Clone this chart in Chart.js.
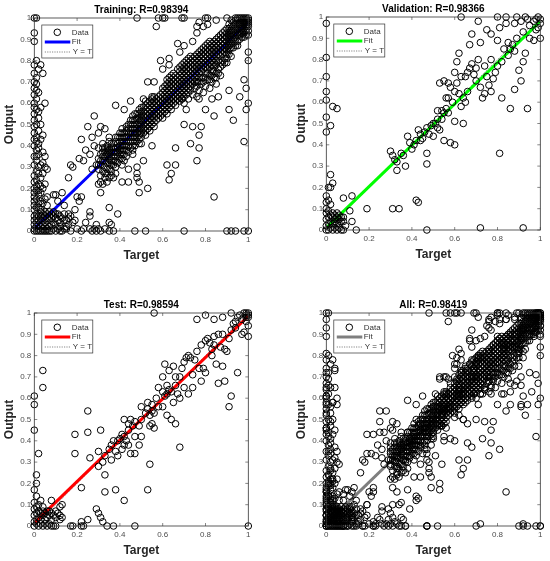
<!DOCTYPE html>
<html>
<head>
<meta charset="utf-8">
<script src="https://cdn.jsdelivr.net/npm/chart.js@4.4.0/dist/chart.umd.min.js"></script>
<style>
body { margin: 0; width: 550px; height: 561px; overflow: hidden; background: #fff; position: relative; }
canvas { position: absolute; }
</style>
</head>
<body>
<canvas id="trainChart" width="275" height="280" style="left:0px;top:0px"></canvas>
<canvas id="valChart" width="275" height="280" style="left:292px;top:-1px"></canvas>
<canvas id="testChart" width="275" height="280" style="left:0px;top:295px"></canvas>
<canvas id="allChart" width="275" height="280" style="left:292px;top:295px"></canvas>
<script>
// tick values (target on x, output on y)
var xTicks = [0, 0.2, 0.4, 0.6, 0.8, 1];
var yTicks = [0, 0.1, 0.2, 0.3, 0.4, 0.5, 0.6, 0.7, 0.8, 0.9, 1];

// fit line: [slope, intercept]
var fitTrain = [0.97, 0.012];
var fitVal = [0.97, 0.010];
var fitTest = [0.97, 0.015];
var fitAll = [0.97, 0.012];

// training points [target, output]
var trainOrigin = [
  [0,0],[0.01,0],[0.02,0],[0.03,0],[0.04,0],[0.05,0],[0.06,0],[0.07,0],[0.08,0],[0.10,0],[0.12,0],[0.13,0],
  [0,0.01],[0.01,0.02],[0.02,0.01],[0.03,0.02],[0.04,0.01],[0.05,0.02],[0.06,0.01],[0.07,0.02],[0.09,0.01],[0.11,0.01],
  [0,0.03],[0.01,0.04],[0.02,0.03],[0.03,0.05],[0.04,0.03],[0.05,0.04],[0.06,0.03],[0.07,0.05],[0.08,0.03],[0.09,0.04],[0.10,0.03],
  [0,0.05],[0.01,0.06],[0.02,0.05],[0.03,0.07],[0.04,0.06],[0.05,0.07],[0.06,0.06],[0.07,0.07],[0.08,0.06],[0.09,0.07],[0.10,0.06],[0.11,0.05],
  [0,0.07],[0.01,0.08],[0.02,0.07],[0.03,0.09],[0.04,0.08],[0.06,0.08],[0.08,0.08],[0.10,0.08],[0.12,0.07],[0.13,0.06],[0.15,0.05],
  [0.14,0.08],[0.16,0.03],[0.12,0.02],[0.14,0.01],[0.17,0.07],[0.18,0.04],[0.19,0.05],[0.05,0.09],[0.07,0.09],[0.09,0.09],
  [0.11,0.08],[0.12,0.04],[0.14,0.05],[0.15,0.02],[0.16,0.06]
];
var trainColumn = [
  [0,0.10],[0.01,0.11],[0,0.12],[0.02,0.13],[0,0.14],[0.01,0.15],[0,0.16],[0.02,0.17],[0,0.18],[0.01,0.19],[0,0.20],
  [0.01,0.21],[0.02,0.22],[0,0.23],[0.01,0.24],[0.03,0.25],[0,0.26],[0.01,0.28],[0.02,0.30],[0,0.31],[0.03,0.31],
  [0.01,0.33],[0,0.35],[0.02,0.36],[0.01,0.38],[0,0.40],[0.02,0.41],[0,0.43],[0.01,0.44],[0,0.46],[0.02,0.47],
  [0,0.49],[0.01,0.50],[0,0.52],[0.02,0.53],[0,0.55],[0.01,0.57],[0,0.58],[0.03,0.58],[0,0.60],[0.01,0.62],
  [0,0.64],[0.02,0.65],[0,0.67],[0.01,0.69],[0,0.70],[0.01,0.72],[0,0.74],[0.02,0.76],[0,0.78],[0.01,0.80],
  [0,0.89],[0,0.93],[0,1],[0.01,1],
  [0.04,0.74],[0.05,0.60],[0.03,0.78],[0.04,0.37],[0.05,0.35],[0.04,0.32],[0.05,0.30],[0.06,0.29],[0.03,0.43],
  [0.04,0.45],[0.03,0.50],[0.04,0.27],[0.05,0.22],[0.04,0.20],[0.03,0.18],[0.05,0.15],[0.06,0.12],[0.04,0.13],[0.03,0.10],[0.06,0.16],
  [0.02,0.11],[0.03,0.14],[0.02,0.19],[0.03,0.21],[0.02,0.27],[0.01,0.35],[0.02,0.39],[0.01,0.42],[0.02,0.56],[0.01,0.66]
];
var trainBand = [
  [0.30,0.29],[0.30,0.34],[0.30,0.39],[0.31,0.26],[0.31,0.31],[0.31,0.36],[0.32,0.22],[0.32,0.28],[0.32,0.33],[0.32,0.37],[0.32,0.41],
  [0.33,0.25],[0.33,0.30],[0.33,0.35],[0.33,0.39],[0.34,0.23],[0.34,0.27],[0.34,0.32],[0.34,0.36],[0.34,0.40],[0.35,0.29],[0.35,0.34],
  [0.35,0.38],[0.35,0.42],[0.36,0.26],[0.36,0.31],[0.36,0.35],[0.36,0.39],[0.37,0.33],[0.37,0.37],[0.37,0.41],[0.38,0.30],[0.38,0.35],
  [0.38,0.39],[0.38,0.44],[0.39,0.32],[0.39,0.37],[0.39,0.41],[0.40,0.34],[0.40,0.38],[0.40,0.42],[0.40,0.46],[0.41,0.31],[0.41,0.36],
  [0.41,0.40],[0.41,0.44],[0.41,0.48],[0.42,0.33],[0.42,0.38],[0.42,0.42],[0.42,0.46],[0.43,0.35],[0.43,0.40],[0.43,0.44],[0.43,0.49],
  [0.44,0.37],[0.44,0.42],[0.44,0.46],[0.44,0.50],[0.45,0.39],[0.45,0.44],[0.45,0.48],[0.45,0.52],[0.46,0.38],[0.46,0.42],[0.46,0.46],
  [0.46,0.50],[0.46,0.54],[0.47,0.40],[0.47,0.44],[0.47,0.48],[0.47,0.52],[0.48,0.42],[0.48,0.46],[0.48,0.50],[0.48,0.55],[0.49,0.41],
  [0.49,0.45],[0.49,0.49],[0.49,0.53],[0.49,0.57],[0.50,0.44],[0.50,0.48],[0.50,0.52],[0.50,0.56],[0.51,0.46],[0.51,0.50],[0.51,0.54],
  [0.51,0.58],[0.52,0.45],[0.52,0.49],[0.52,0.53],[0.52,0.57],[0.52,0.61],[0.53,0.48],[0.53,0.52],[0.53,0.56],[0.53,0.60],[0.54,0.47],
  [0.54,0.51],[0.54,0.55],[0.54,0.59],[0.55,0.50],[0.55,0.54],[0.55,0.58],[0.55,0.62],[0.56,0.49],[0.56,0.53],[0.56,0.57],[0.56,0.61],
  [0.57,0.52],[0.57,0.56],[0.57,0.60],[0.58,0.55],[0.58,0.59],[0.58,0.63],[0.59,0.54],[0.59,0.58],[0.59,0.62],[0.60,0.53],[0.60,0.57],
  [0.60,0.61],[0.60,0.65],[0.61,0.56],[0.61,0.60],[0.61,0.64],[0.61,0.68],[0.62,0.55],[0.62,0.59],[0.62,0.63],[0.62,0.67],[0.62,0.71],
  [0.63,0.58],[0.63,0.62],[0.63,0.66],[0.63,0.70],[0.64,0.57],[0.64,0.61],[0.64,0.65],[0.64,0.69],[0.64,0.73],[0.65,0.60],[0.65,0.64],
  [0.65,0.68],[0.65,0.72],[0.66,0.59],[0.66,0.63],[0.66,0.67],[0.66,0.71],[0.67,0.62],[0.67,0.66],[0.67,0.70],[0.68,0.61],[0.68,0.65],
  [0.68,0.69],[0.68,0.73],[0.68,0.77],[0.69,0.64],[0.69,0.68],[0.69,0.72],[0.69,0.76],[0.70,0.60],[0.70,0.63],[0.70,0.67],[0.70,0.71],
  [0.70,0.75],[0.70,0.79],[0.71,0.66],[0.71,0.70],[0.71,0.74],[0.71,0.78],[0.72,0.62],[0.72,0.65],[0.72,0.69],[0.72,0.73],[0.72,0.77],
  [0.72,0.81],[0.73,0.68],[0.73,0.72],[0.73,0.76],[0.73,0.80],[0.74,0.64],[0.74,0.71],[0.74,0.75],[0.74,0.79],[0.75,0.67],[0.75,0.74],
  [0.75,0.78],[0.75,0.82],[0.76,0.63],[0.76,0.70],[0.76,0.73],[0.76,0.77],[0.76,0.81],[0.77,0.66],[0.77,0.72],[0.77,0.76],[0.77,0.80],
  [0.77,0.84],[0.78,0.69],[0.78,0.75],[0.78,0.79],[0.78,0.83],[0.79,0.65],[0.79,0.72],[0.79,0.78],[0.79,0.82],[0.79,0.86],[0.80,0.68],
  [0.80,0.74],[0.80,0.77],[0.80,0.81],[0.80,0.85],[0.81,0.71],[0.81,0.76],[0.81,0.80],[0.81,0.84],[0.81,0.88],[0.82,0.67],[0.82,0.73],
  [0.82,0.79],[0.82,0.83],[0.82,0.87],[0.83,0.70],[0.83,0.75],[0.83,0.78],[0.83,0.82],[0.83,0.86],[0.84,0.72],[0.84,0.77],[0.84,0.81],
  [0.84,0.85],[0.84,0.89],[0.85,0.69],[0.85,0.74],[0.85,0.80],[0.85,0.84],[0.85,0.88],[0.86,0.76],[0.86,0.83],[0.86,0.87],[0.86,0.91],
  [0.87,0.73],[0.87,0.79],[0.87,0.82],[0.87,0.86],[0.87,0.90],[0.88,0.78],[0.88,0.85],[0.88,0.89],[0.88,0.93],[0.89,0.81],[0.89,0.84],
  [0.89,0.88],[0.89,0.92],[0.90,0.79],[0.90,0.83],[0.90,0.87],[0.90,0.91],[0.90,0.95],[0.91,0.85],[0.91,0.89],[0.91,0.93],[0.91,0.97],
  [0.92,0.82],[0.92,0.88],[0.92,0.92],[0.92,0.96],[0.93,0.86],[0.93,0.90],[0.93,0.94],[0.93,0.98],[0.94,0.89],[0.94,0.93],[0.94,0.97],
  [0.95,0.87],[0.95,0.92],[0.95,0.95],[0.95,0.99],[0.96,0.90],[0.96,0.94],[0.96,0.97],[0.96,1.00],[0.97,0.93],[0.97,0.96],[0.97,0.99],
  [0.98,0.91],[0.98,0.95],[0.98,0.98],[0.98,1.00],[0.99,0.94],[0.99,0.97],[0.99,1.00],[1.00,0.92],[1.00,0.96],[1.00,0.98],[1.00,1.00],
  [0.97,1.00],[0.99,0.99],[0.94,1.00],[0.92,0.99],[0.95,1.00]
];
var trainBandMid = [
  [0.30,0.31],[0.31,0.33],[0.31,0.23],[0.32,0.35],[0.32,0.39],[0.33,0.27],[0.33,0.33],[0.33,0.37],[0.34,0.29],[0.34,0.38],[0.35,0.25],
  [0.35,0.32],[0.35,0.36],[0.36,0.28],[0.36,0.33],[0.36,0.37],[0.36,0.41],[0.37,0.31],[0.37,0.35],[0.37,0.39],[0.38,0.33],[0.38,0.37],
  [0.38,0.42],[0.39,0.35],[0.39,0.39],[0.39,0.44],[0.40,0.36],[0.40,0.40],[0.40,0.44],[0.41,0.34],[0.41,0.38],[0.41,0.42],[0.41,0.46],
  [0.42,0.36],[0.42,0.40],[0.42,0.44],[0.43,0.38],[0.43,0.42],[0.43,0.47],[0.44,0.40],[0.44,0.44],[0.44,0.48],[0.45,0.42],[0.45,0.46],
  [0.45,0.50],[0.46,0.40],[0.46,0.44],[0.46,0.48],[0.46,0.52],[0.47,0.42],[0.47,0.46],[0.47,0.50],[0.47,0.55],[0.48,0.44],[0.48,0.48],
  [0.48,0.53],[0.49,0.43],[0.49,0.47],[0.49,0.51],[0.49,0.55],[0.50,0.46],[0.50,0.50],[0.50,0.54],[0.50,0.58],[0.51,0.48],[0.51,0.52],
  [0.51,0.56],[0.52,0.47],[0.52,0.51],[0.52,0.55],[0.52,0.59],[0.53,0.50],[0.53,0.54],[0.53,0.58],[0.54,0.49],[0.54,0.53],[0.54,0.57],
  [0.54,0.61],[0.55,0.52],[0.55,0.56],[0.55,0.60],[0.56,0.51],[0.56,0.55],[0.56,0.59],[0.56,0.63],[0.57,0.54],[0.57,0.58],[0.57,0.62],
  [0.58,0.53],[0.58,0.57],[0.58,0.61],[0.59,0.56],[0.59,0.60],[0.59,0.64],[0.60,0.55],[0.60,0.59],[0.60,0.63],[0.60,0.67],[0.61,0.58],
  [0.61,0.62],[0.61,0.66],[0.62,0.57],[0.62,0.61],[0.62,0.65],[0.62,0.69],[0.63,0.60],[0.63,0.64],[0.63,0.68],[0.63,0.72],[0.64,0.59],
  [0.64,0.63],[0.64,0.67],[0.64,0.71],[0.65,0.62],[0.65,0.66],[0.65,0.70],[0.65,0.74],[0.66,0.61],[0.66,0.65],[0.66,0.69],[0.66,0.73],
  [0.67,0.64],[0.67,0.68],[0.67,0.72],[0.67,0.76],[0.68,0.63],[0.68,0.67],[0.68,0.71],[0.68,0.75],[0.69,0.62],[0.69,0.66],[0.69,0.70],
  [0.69,0.74],[0.69,0.78],[0.70,0.65],[0.70,0.69],[0.70,0.73],[0.70,0.77],[0.71,0.64],[0.71,0.68],[0.71,0.72],[0.71,0.76],[0.71,0.80],
  [0.72,0.67],[0.72,0.71],[0.72,0.75],[0.72,0.79],[0.73,0.66],[0.73,0.70],[0.73,0.74],[0.73,0.78],[0.73,0.82],[0.74,0.69],[0.74,0.73],
  [0.74,0.77],[0.74,0.81],[0.75,0.70],[0.75,0.72],[0.75,0.76],[0.75,0.80],[0.76,0.68],[0.76,0.75],[0.76,0.79],[0.76,0.83],[0.77,0.70],
  [0.77,0.74],[0.77,0.78],[0.77,0.82],[0.78,0.72],[0.78,0.77],[0.78,0.81],[0.78,0.85],[0.79,0.70],[0.79,0.76],[0.79,0.80],[0.79,0.84],
  [0.80,0.72],[0.80,0.79],[0.80,0.83],[0.80,0.87],[0.81,0.74],[0.81,0.78],[0.81,0.82],[0.81,0.86],[0.82,0.71],[0.82,0.77],[0.82,0.81],
  [0.82,0.85],[0.82,0.89],[0.83,0.73],[0.83,0.80],[0.83,0.84],[0.83,0.88],[0.84,0.75],[0.84,0.79],[0.84,0.83],[0.84,0.87],[0.85,0.72],
  [0.85,0.78],[0.85,0.82],[0.85,0.86],[0.85,0.90],[0.86,0.74],[0.86,0.80],[0.86,0.85],[0.86,0.89],[0.87,0.77],[0.87,0.84],[0.87,0.88],
  [0.87,0.92],[0.88,0.80],[0.88,0.83],[0.88,0.87],[0.88,0.91],[0.89,0.79],[0.89,0.86],[0.89,0.90],[0.89,0.94],[0.90,0.81],[0.90,0.85],
  [0.90,0.89],[0.90,0.93],[0.91,0.83],[0.91,0.87],[0.91,0.91],[0.91,0.95],[0.92,0.86],[0.92,0.90],[0.92,0.94],[0.93,0.88],[0.93,0.92],
  [0.93,0.96],[0.94,0.87],[0.94,0.91],[0.94,0.95],[0.94,0.99],[0.95,0.89],[0.95,0.93],[0.95,0.97],[0.96,0.92],[0.96,0.96],[0.96,0.98],
  [0.97,0.91],[0.97,0.95],[0.97,0.98],[0.98,0.93],[0.98,0.97],[0.98,0.99],[0.99,0.92],[0.99,0.96],[0.99,0.98],[1.00,0.94],[1.00,0.97],
  [1.00,0.99]
];
var trainOutliers = [
  [0.28,0.54],[0.25,0.49],[0.31,0.49],[0.35,0.44],[0.22,0.43],[0.24,0.38],[0.21,0.34],[0.18,0.30],[0.17,0.31],[0.16,0.25],
  [0.20,0.16],[0.21,0.14],[0.16,0.08],[0.10,0.17],[0.09,0.17],[0.11,0.14],[0.26,0.09],[0.26,0.07],[0.24,0.04],[0.29,0.03],
  [0.35,0.11],[0.35,0.04],[0.36,0.03],[0.39,0.08],[0.38,0.27],[0.37,0.25],[0.41,0.23],[0.44,0.23],[0.49,0.23],[0.49,0.18],
  [0.48,0.25],[0.53,0.20],[0.48,0.27],[0.38,0.59],[0.42,0.57],[0.45,0.61],[0.51,0.62],[0.55,0.63],[0.53,0.70],[0.56,0.70],
  [0.60,0.76],[0.63,0.78],[0.68,0.84],[0.70,0.87],[0.74,0.89],[0.76,0.93],[0.79,0.96],[0.81,0.97],[0.67,0.88],[0.63,0.81],
  [0.59,0.80],[0.57,0.96],[0.84,0.16],[0.76,0.33],[0.62,0.31],[0.66,0.31],[0.64,0.27],[0.63,0.24],[0.66,0.39],[0.77,0.39],
  [0.77,0.45],[0.78,0.49],[0.73,0.41],[0.74,0.49],[0.70,0.50],[0.84,0.54],[0.86,0.63],[0.93,0.52],[0.98,0.42],[0.99,0.57],
  [1.00,0.60],[0.96,0.63],[0.99,0.67],[0.98,0.71],[1.00,0.84],[1.00,0.80],[0.91,0.57],[0.80,0.57],[0.83,0.62],[0.77,0.62],
  [0.91,0.66],[0.71,0.57],[0.69,0.62],[0.55,0.40],[0.51,0.33],[0.48,0.30],[0.44,0.29],[0.46,0.36],[0.50,0.41],[0.27,0.44],
  [0.30,0.46],[0.33,0.48],[0.23,0.33],[0.26,0.36],[0.28,0.40],[0.29,0.31],[0.27,0.29],[0.13,0.18],[0.14,0.12],[0.19,0.10],
  [0.22,0.16],[0.30,0.22],[0.31,0.18],
  [0.48,1.00],[0.58,1.00],[0.60,1.00],[0.61,1.00],[0.69,1.00],[0.70,1.00],[0.77,0.98],[0.80,1.00],[0.81,1.00],[0.85,0.99],
  [0.90,1.00],[0.76,0.96],
  [0.20,0.01],[0.22,0.00],[0.23,0.01],[0.26,0.01],[0.27,0.00],[0.28,0.01],[0.29,0.00],[0.30,0.01],[0.31,0.00],[0.33,0.01],
  [0.35,0.00],[0.37,0.00],[0.47,0.00],[0.52,0.00],[0.70,0.00],[0.90,0.00],[0.92,0.00],[0.94,0.00],[0.98,0.00],[1.00,0.00],
  [0.15,0.01],[0.17,0.00]
];

// validation points
var valPoints = [
  [0,0],[0.01,0],[0.02,0.01],[0.03,0],[0.04,0.01],[0.05,0],[0.06,0.01],[0.07,0],[0.08,0],[0,0.02],[0.01,0.03],[0.02,0.04],
  [0.03,0.03],[0.04,0.05],[0.05,0.03],[0.06,0.05],[0.07,0.04],[0.08,0.06],[0,0.05],[0.01,0.06],[0.02,0.07],[0.03,0.06],
  [0.04,0.07],[0.05,0.06],[0.06,0.07],[0.07,0.06],[0,0.08],[0.01,0.09],[0.03,0.08],[0.05,0.08],[0,0.10],[0.02,0.12],
  [0.04,0.04],[0.06,0.03],[0.08,0.04],[0.09,0.02],
  [0,0.97],[0,0.81],[0,0.72],[0,0.65],[0,0.61],[0,0.53],[0,0.46],[0.02,0.49],[0.03,0.58],[0.05,0.57],[0.02,0.26],[0.03,0.22],
  [0.01,0.20],[0.02,0.20],[0,0.16],[0,0.13],[0.01,0.14],
  [0.08,0.15],[0.12,0.16],[0.11,0.09],[0.12,0.04],[0.14,0],[0.19,0.10],[0.31,0.10],[0.34,0.10],[0.42,0.14],[0.43,0.13],
  [0.47,0],[0.72,0.01],[0.92,0.01],[0.81,0.36],[0.47,0.31],[0.47,0.36],
  [0.30,0.37],[0.31,0.35],[0.32,0.33],[0.33,0.32],[0.33,0.28],[0.37,0.30],[0.36,0.35],[0.38,0.44],[0.40,0.38],[0.41,0.40],
  [0.42,0.42],[0.44,0.45],[0.43,0.47],[0.45,0.43],[0.46,0.46],[0.47,0.48],[0.48,0.45],[0.50,0.44],[0.50,0.50],[0.51,0.50],
  [0.52,0.52],[0.53,0.47],[0.54,0.56],[0.55,0.55],[0.56,0.62],[0.57,0.62],[0.56,0.57],[0.52,0.56],[0.53,0.69],[0.55,0.70],
  [0.57,0.69],[0.58,0.67],[0.60,0.65],[0.61,0.69],[0.62,0.64],[0.64,0.62],[0.64,0.50],[0.60,0.51],[0.58,0.41],[0.60,0.40],
  [0.55,0.42],[0.65,0.60],[0.65,0.72],[0.67,0.76],[0.68,0.78],[0.70,0.76],[0.70,0.70],[0.72,0.67],[0.74,0.64],[0.73,0.62],
  [0.75,0.72],[0.76,0.68],[0.78,0.71],[0.79,0.74],[0.80,0.77],[0.82,0.79],[0.85,0.82],[0.86,0.85],[0.87,0.87],[0.88,0.84],
  [0.90,0.75],[0.92,0.79],[0.93,0.83],[0.91,0.70],[0.88,0.66],[0.82,0.62],[0.86,0.57],[0.94,0.57],[0.77,0.65],[0.68,0.92],
  [0.75,0.94],[0.80,0.89],[0.72,0.88],[0.77,0.92],[0.81,0.95],[0.84,0.97],[0.88,0.97],[0.91,0.98],[0.94,0.99],[0.97,0.98],
  [0.99,1.00],[1.00,0.99],[1.00,0.97],[0.99,0.95],[0.98,0.94],[1.00,0.90],[0.97,0.89],[0.95,0.90],[0.63,1.00],[0.80,1.00],
  [0.84,1.00],[0.93,1.00],[0.89,1.00],[0.71,0.98],[0.67,0.87],[0.62,0.83],[0.61,0.79],[0.60,0.74],[0.63,0.72],[0.66,0.74],
  [0.69,0.73],[0.71,0.80],[0.74,0.77],[0.77,0.80],[0.83,0.85],[0.85,0.88],[0.89,0.90],[0.92,0.93],[0.95,0.96],[0.98,0.99],
  [0.35,0.36],[0.39,0.41],[0.44,0.42],[0.49,0.49],[0.52,0.48],[0.57,0.55],[0.59,0.60],[0.63,0.58],[0.66,0.65],[0.54,0.52]
];

// test points
var testPoints = [
  [0,0],[0.01,0.01],[0.02,0],[0.03,0.01],[0.04,0],[0.05,0.01],[0.06,0],[0.07,0.01],[0.08,0],[0.09,0],[0,0.02],[0.01,0.03],
  [0.02,0.04],[0.03,0.03],[0.04,0.05],[0.05,0.03],[0.06,0.04],[0.07,0.05],[0.08,0.03],[0.09,0.05],[0.10,0.04],[0,0.05],
  [0.01,0.06],[0.02,0.07],[0.03,0.06],[0.04,0.07],[0.05,0.06],[0.06,0.07],[0.07,0.07],[0,0.08],[0.01,0.09],[0.02,0.10],
  [0.04,0.09],[0.03,0.12],[0,0.11],[0.11,0.06],[0.12,0.03],[0.10,0.07],[0.08,0.06],[0.12,0.09],[0.13,0.10],[0.08,0.12],
  [0.12,0.05],[0.13,0.04],[0.10,0],
  [0,0.61],[0,0.57],[0,0.45],[0.02,0.34],[0.04,0.73],[0.04,0.65],[0.01,0.24],[0.01,0.20],[0,0.17],[0.01,0.14],
  [0.56,1.00],[0.19,0.43],[0.25,0.44],[0.25,0.54],[0.19,0.34],[0.26,0.32],[0.31,0.45],[0.30,0.35],[0.32,0.30],[0.30,0.28],
  [0.33,0.24],[0.33,0.16],[0.38,0.17],[0.42,0.12],[0.22,0.18],[0.53,0.17],[0.54,0.29],[0.68,0.37],[0.64,0.50],[0.66,0.48],
  [0.17,0],[0.18,0],[0.22,0],[0.23,0],[0.34,0],[0.37,0],[0.47,0],[1.00,0],[0.29,0.08],[0.30,0.06],[0.31,0.04],[0.32,0.02],
  [0.25,0.03],[0.22,0.02],
  [0.33,0.33],[0.35,0.36],[0.36,0.38],[0.37,0.40],[0.39,0.40],[0.40,0.41],[0.41,0.43],[0.42,0.42],[0.43,0.40],[0.38,0.35],
  [0.36,0.31],[0.39,0.33],[0.41,0.36],[0.42,0.38],[0.44,0.38],[0.45,0.34],[0.46,0.47],[0.45,0.50],[0.44,0.48],[0.47,0.49],
  [0.49,0.47],[0.50,0.50],[0.50,0.56],[0.52,0.53],[0.53,0.55],[0.54,0.52],[0.55,0.54],[0.56,0.53],[0.55,0.57],[0.53,0.58],
  [0.55,0.48],[0.56,0.46],[0.54,0.47],[0.57,0.60],[0.58,0.65],[0.60,0.63],[0.61,0.61],[0.62,0.62],[0.63,0.64],[0.64,0.63],
  [0.62,0.66],[0.60,0.70],[0.61,0.76],[0.63,0.73],[0.65,0.75],[0.66,0.70],[0.66,0.66],[0.68,0.70],[0.69,0.74],[0.70,0.77],
  [0.71,0.79],[0.72,0.80],[0.73,0.79],[0.70,0.65],[0.72,0.62],[0.74,0.71],[0.75,0.78],[0.76,0.82],[0.78,0.85],[0.80,0.87],
  [0.81,0.88],[0.82,0.86],[0.79,0.74],[0.78,0.68],[0.84,0.85],[0.84,0.89],[0.86,0.90],[0.88,0.90],[0.88,0.75],[0.89,0.83],
  [0.90,0.82],[0.92,0.92],[0.93,0.95],[0.94,0.96],[0.95,0.98],[0.96,0.99],[0.98,1.00],[0.99,0.99],[1.00,0.98],[0.99,0.96],
  [1.00,0.94],[0.98,0.91],[1.00,0.89],[0.97,0.90],[0.76,0.97],[0.80,0.99],[0.84,0.97],[0.88,0.98],[0.92,1.00],[0.95,0.72],
  [0.91,0.56],[0.92,0.61],[0.86,0.67],[0.89,0.68],[0.83,0.80],[0.85,0.76],[0.80,0.72],[0.74,0.65],[0.67,0.62],[0.68,0.60],
  [0.65,0.58],[0.62,0.52],[0.60,0.56],[0.47,0.34],[0.49,0.38],[0.47,0.42],[0.44,0.45],[0.42,0.50],[0.50,0.42],[0.58,0.56],
  [0.99,1.00],[1.00,1.00],[1.00,0.99],[0.99,0.98],[0.97,0.97],[0.94,0.93],[0.91,0.88],[0.87,0.84],[0.83,0.83],[0.77,0.74]
];

var trainPoints = trainOrigin.concat(trainColumn, trainBand, trainBandMid, trainOutliers);
var allPoints = trainPoints.concat(valPoints, testPoints);

var fontFamily = '"Liberation Sans", Arial, sans-serif';

var framePlugin = {
    id: 'frame',
    afterDatasetsDraw: function(chart, args, opts) {
        var ctx = chart.ctx;
        var a = chart.chartArea;
        var xs = chart.scales.x;
        var ys = chart.scales.y;
        ctx.save();

        // inward tick marks on all four sides
        ctx.strokeStyle = '#555';
        ctx.lineWidth = 0.7;
        ctx.beginPath();
        xTicks.forEach(function(v) {
            var px = xs.getPixelForValue(v);
            ctx.moveTo(px, a.bottom); ctx.lineTo(px, a.bottom - 3);
            ctx.moveTo(px, a.top); ctx.lineTo(px, a.top + 3);
        });
        yTicks.forEach(function(v) {
            var py = ys.getPixelForValue(v);
            ctx.moveTo(a.left, py); ctx.lineTo(a.left + 3, py);
            ctx.moveTo(a.right, py); ctx.lineTo(a.right - 3, py);
        });
        ctx.stroke();

        // axes box
        ctx.strokeStyle = '#333';
        ctx.lineWidth = 0.8;
        ctx.strokeRect(a.left, a.top, a.right - a.left, a.bottom - a.top);

        // title
        ctx.fillStyle = '#000';
        ctx.font = 'bold 10px ' + fontFamily;
        ctx.textAlign = 'center';
        ctx.textBaseline = 'middle';
        ctx.fillText(opts.title, (a.left + a.right) / 2, a.top - 7.5);

        // legend
        var lx = a.left + 7.5, ly = a.top + 7;
        ctx.fillStyle = '#fff';
        ctx.fillRect(lx, ly, 51, 33);
        ctx.strokeStyle = '#333';
        ctx.lineWidth = 0.7;
        ctx.strokeRect(lx, ly, 51, 33);

        ctx.strokeStyle = '#000';
        ctx.lineWidth = 1;
        ctx.beginPath();
        ctx.arc(a.left + 23, a.top + 14.3, 3.3, 0, Math.PI * 2);
        ctx.stroke();

        ctx.strokeStyle = opts.color;
        ctx.lineWidth = 3;
        ctx.beginPath();
        ctx.moveTo(a.left + 10.5, a.top + 24); ctx.lineTo(a.left + 36, a.top + 24);
        ctx.stroke();

        ctx.strokeStyle = '#555';
        ctx.lineWidth = 0.7;
        ctx.setLineDash([1.2, 1.2]);
        ctx.beginPath();
        ctx.moveTo(a.left + 10.5, a.top + 34); ctx.lineTo(a.left + 36, a.top + 34);
        ctx.stroke();
        ctx.setLineDash([]);

        ctx.fillStyle = '#333';
        ctx.font = '8px ' + fontFamily;
        ctx.textAlign = 'left';
        ctx.fillText('Data', a.left + 37.5, a.top + 14.3);
        ctx.fillText('Fit', a.left + 37.5, a.top + 24);
        ctx.fillText('Y = T', a.left + 38.5, a.top + 34);
        ctx.restore();
    }
};

function makeChart(id, title, points, fit, color) {
    var ctx = document.getElementById(id).getContext('2d');
    return new Chart(ctx, {
        type: 'scatter',
        data: {
            datasets: [{
                label: 'Data',
                data: points.map(function(p) { return { x: p[0], y: p[1] }; }),
                pointStyle: 'circle',
                pointRadius: 3.3,
                pointBorderWidth: 1,
                pointBorderColor: '#000',
                pointBackgroundColor: 'rgba(0,0,0,0)',
                clip: false,
                order: 1
            }, {
                label: 'Fit',
                data: [{ x: 0, y: fit[1] }, { x: 1, y: fit[0] + fit[1] }],
                showLine: true,
                borderColor: color,
                borderWidth: 3,
                pointRadius: 0,
                order: 2
            }, {
                label: 'Y = T',
                data: [{ x: 0, y: 0 }, { x: 1, y: 1 }],
                showLine: true,
                borderColor: '#555',
                borderWidth: 0.7,
                borderDash: [1.2, 1.2],
                pointRadius: 0,
                order: 3
            }]
        },
        options: {
            responsive: false,
            animation: false,
            events: [],
            layout: { padding: { top: 18, right: 26.7, left: 0, bottom: 0 } },
            scales: {
                x: {
                    type: 'linear',
                    min: 0,
                    max: 1,
                    afterBuildTicks: function(s) { s.ticks = xTicks.map(function(v) { return { value: v }; }); },
                    afterFit: function(s) { s.height = 49; },
                    grid: { display: false, drawTicks: false },
                    border: { display: false },
                    ticks: { color: '#4d4d4d', padding: 4, maxRotation: 0, font: { size: 8, family: fontFamily },
                             callback: function(v) { return String(v); } },
                    title: { display: true, text: 'Target', color: '#262626',
                             font: { size: 12, weight: 'bold', family: fontFamily }, padding: { top: 0, bottom: 17.6 } }
                },
                y: {
                    type: 'linear',
                    min: 0,
                    max: 1,
                    afterBuildTicks: function(s) { s.ticks = yTicks.map(function(v) { return { value: v }; }); },
                    afterFit: function(s) { s.width = 34.3; },
                    grid: { display: false, drawTicks: false },
                    border: { display: false },
                    ticks: { color: '#4d4d4d', padding: 3, font: { size: 8, family: fontFamily },
                             callback: function(v) { return String(v); } },
                    title: { display: true, text: 'Output', color: '#262626',
                             font: { size: 12, weight: 'bold', family: fontFamily }, padding: { top: 2, bottom: 0 } }
                }
            },
            plugins: {
                legend: { display: false },
                tooltip: { enabled: false },
                frame: { title: title, color: color }
            }
        },
        plugins: [framePlugin]
    });
}

document.addEventListener('DOMContentLoaded', function() {
    makeChart('trainChart', 'Training: R=0.98394', trainPoints, fitTrain, '#0000ff');
    makeChart('valChart', 'Validation: R=0.98366', valPoints, fitVal, '#00ff00');
    makeChart('testChart', 'Test: R=0.98594', testPoints, fitTest, '#ff0000');
    makeChart('allChart', 'All: R=0.98419', allPoints, fitAll, '#7f7f7f');
});
</script>
</body>
</html>
